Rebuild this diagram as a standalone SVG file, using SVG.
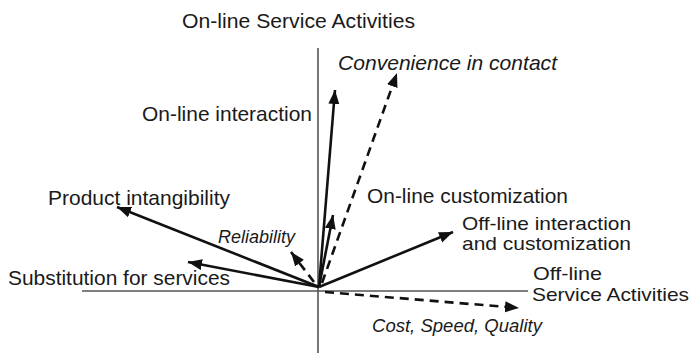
<svg xmlns="http://www.w3.org/2000/svg" width="693" height="353" viewBox="0 0 693 353">
<defs>
<marker id="ah" markerUnits="userSpaceOnUse" markerWidth="16" markerHeight="12" refX="14" refY="5.5" orient="auto">
<path d="M0,0 L14,5.5 L0,11 z" fill="#111"/>
</marker>
<style>
text{font-family:"Liberation Sans",Arial,sans-serif;fill:#1a1a1a;font-size:21px}
.it{font-style:italic}
.sm{font-size:18px}
.two{font-size:19px}
.axis{stroke:#555;stroke-width:1.6;fill:none}
.arr{stroke:#111;stroke-width:2.6;fill:none;marker-end:url(#ah)}
.dash{stroke-dasharray:9 6}
</style>
</defs>
<rect width="693" height="353" fill="#fff"/>
<g id="axes">
<line class="axis" x1="318" y1="48" x2="318" y2="353"/>
<line class="axis" x1="82" y1="291" x2="528" y2="291"/>
</g>
<g id="connectors">
<line class="arr" x1="319" y1="287" x2="335" y2="90"/>
<line class="arr dash" x1="322" y1="283" x2="397" y2="73"/>
<line class="arr" x1="319" y1="287" x2="333" y2="215"/>
<line class="arr" x1="319" y1="287" x2="453" y2="232"/>
<line class="arr dash" x1="325" y1="292" x2="519" y2="308"/>
<line class="arr" x1="319" y1="287" x2="117" y2="207"/>
<line class="arr dash" x1="314" y1="282" x2="291" y2="252"/>
<line class="arr" x1="319" y1="287" x2="188" y2="262"/>
</g>
<g id="title"><text x="182" y="28" textLength="233" lengthAdjust="spacingAndGlyphs">On-line Service Activities</text></g>
<g id="convenience"><text class="it" x="338" y="70" textLength="219" lengthAdjust="spacingAndGlyphs">Convenience in contact</text></g>
<g id="online-interaction"><text x="142" y="121" textLength="170" lengthAdjust="spacingAndGlyphs">On-line interaction</text></g>
<g id="product"><text x="48" y="205" textLength="182" lengthAdjust="spacingAndGlyphs">Product intangibility</text></g>
<g id="online-customization"><text x="367" y="203" textLength="201" lengthAdjust="spacingAndGlyphs">On-line customization</text></g>
<g id="offline-interaction"><text class="two" x="462" y="230" textLength="169" lengthAdjust="spacingAndGlyphs">Off-line interaction</text><text class="two" x="462" y="250" textLength="169" lengthAdjust="spacingAndGlyphs">and customization</text></g>
<g id="reliability"><text class="it sm" x="218" y="243" textLength="77" lengthAdjust="spacingAndGlyphs">Reliability</text></g>
<g id="substitution"><text x="8" y="285" textLength="222" lengthAdjust="spacingAndGlyphs">Substitution for services</text></g>
<g id="offline"><text class="two" x="533" y="280" textLength="69" lengthAdjust="spacingAndGlyphs">Off-line</text><text class="two" x="532" y="301" textLength="157" lengthAdjust="spacingAndGlyphs">Service Activities</text></g>
<g id="cost"><text class="it sm" x="372" y="332" textLength="170" lengthAdjust="spacingAndGlyphs">Cost, Speed, Quality</text></g>
</svg>
